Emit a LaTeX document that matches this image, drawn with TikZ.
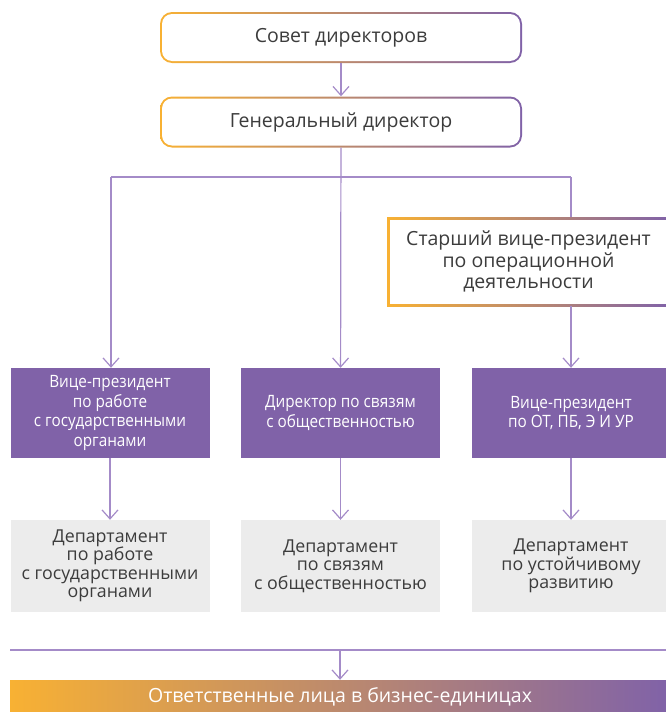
\documentclass[tikz,border=0pt]{standalone}
\usepackage{fontspec}
\setmainfont{Open Sans}
\newfontfamily\narrowfont[FakeStretch=0.9]{Open Sans}
\usetikzlibrary{arrows.meta}
\definecolor{orangeC}{HTML}{F8B133}
\definecolor{violetC}{HTML}{8062A8}
\definecolor{lineC}{HTML}{A48BC8}
\definecolor{textC}{HTML}{3C3C3C}
\definecolor{greyC}{HTML}{ECECEC}
\begin{document}
\begin{tikzpicture}[x=1pt,y=-1pt,
		every node/.style={align=center, inner sep=0pt, text=textC},
		frame/.style={left color=orangeC, right color=violetC, font=\fontsize{19.5}{21.5}\selectfont},
		topbox/.style={frame, rounded corners=12pt, minimum width=362pt, minimum height=51pt,
			path picture={\fill[white, rounded corners=10pt] ([shift={(2pt,-2pt)}]path picture bounding box.north west) rectangle ([shift={(-2pt,2pt)}]path picture bounding box.south east);}},
		sidebox/.style={frame, minimum width=283pt, minimum height=89pt,
			path picture={\fill[white] ([shift={(2.5pt,-2.5pt)}]path picture bounding box.north west) rectangle ([shift={(-2.5pt,2.5pt)}]path picture bounding box.south east);}},
		vpbox/.style={fill=violetC, text=white, minimum width=199pt, minimum height=90pt, font=\narrowfont\fontsize{17}{19.5}\selectfont},
		depbox/.style={fill=greyC, minimum width=199pt, minimum height=92pt, font=\fontsize{17.8}{18.5}\selectfont},
		conn/.style={draw=lineC, line width=1.2pt},
		arr/.style={conn, -{Straight Barb[length=9pt, width=16pt, line width=1.2pt]}}]
	\useasboundingbox (0,0) rectangle (666,712);
	\node[topbox] (sovet) at (341,37.5) {Совет директоров};
	\node[topbox] (gendir) at (341,122) {Генеральный директор};
	\node[sidebox] (svp) at (528.5,261.5) {Старший вице-президент\\по операционной\\деятельности};
	\node[vpbox] (vp1) at (110,413) {Вице-президент\\по работе\\с государственными\\органами};
	\node[vpbox] (vp2) at (340.5,413) {Директор по связям\\с общественностью};
	\node[vpbox] (vp3) at (571,413) {Вице-президент\\по ОТ, ПБ, Э И УР};
	\node[depbox] (dep1) at (110,566) {Департамент\\по работе\\с государственными\\органами};
	\node[depbox] (dep2) at (340.5,566) {Департамент\\по связям\\с общественностью};
	\node[depbox] (dep3) at (571,566) {Департамент\\по устойчивому\\развитию};
	\node[frame, text=white, minimum width=660pt, minimum height=34pt] (bar) at (340,697) {Ответственные лица в бизнес-единицах};
	\coordinate (splitL) at (111,177);
	\coordinate (splitR) at (571,177);
	\coordinate (busL) at (10,650);
	\coordinate (busR) at (666,650);
	\draw[arr] (sovet) -- (gendir);
	\draw[arr] (gendir) -- (vp2);
	\draw[conn] (splitL) -- (splitR);
	\draw[arr] (splitL) -- (splitL |- vp1.north);
	\draw[conn] (splitR) -- (splitR |- svp.north);
	\draw[arr] (splitR |- svp.south) -- (vp3);
	\draw[arr] (vp1) -- (dep1);
	\draw[arr] (vp2) -- (dep2);
	\draw[arr] (vp3) -- (dep3);
	\draw[conn] (busL) -- (busR);
	\draw[arr] (bar.north |- busL) -- (bar);
\end{tikzpicture}
\end{document}
